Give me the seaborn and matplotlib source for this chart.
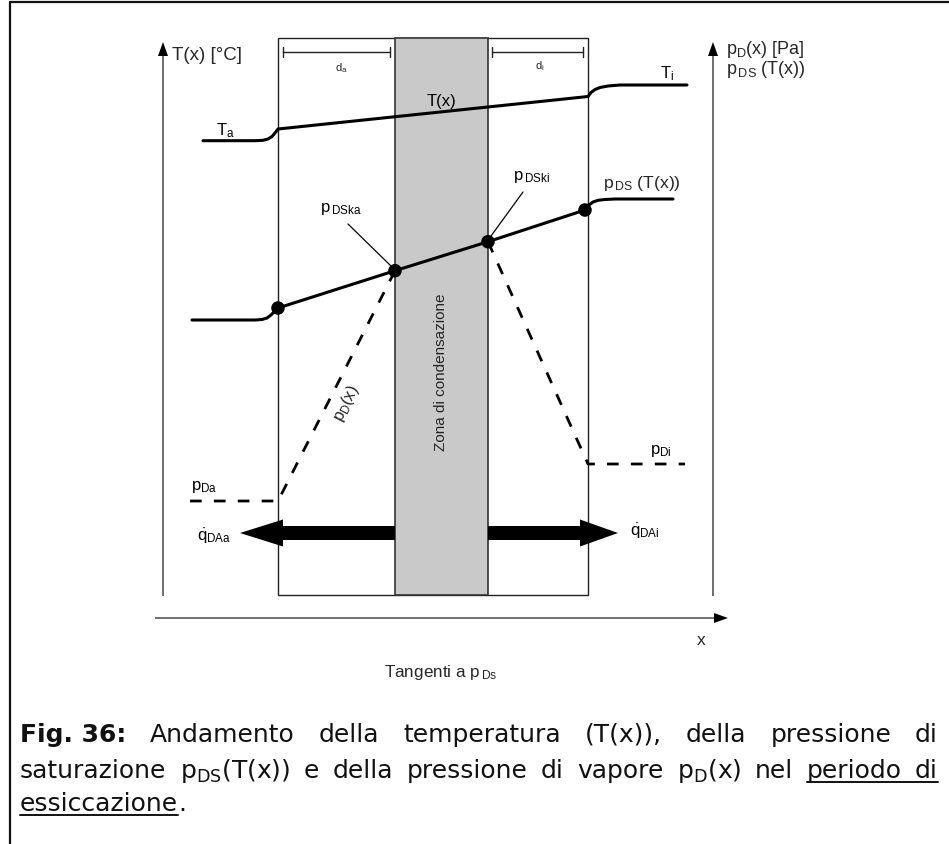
import matplotlib
matplotlib.use('Agg')
import matplotlib.pyplot as plt
import seaborn as sns
from matplotlib.patches import Rectangle

# drawing units: pixels of the 949x845 sheet, y axis pointing down

# layer geometry
wall_x = [278, 588]
zone_x = [395, 488]
layer_y = [39, 596]

# temperature curve T(x)
temp_x = [203, 255, 263, 268, 272, 275, 278, 588, 591, 595, 600, 608, 620, 687]
temp_y = [141.7, 141.7, 141.3, 140, 137.5, 134, 130, 97.5, 93.5, 90.5, 88.5, 87, 86, 86]

# saturation pressure curve p_DS(T(x))
psat_x = [192, 255, 262, 267, 271, 275, 278, 395, 488, 585, 589, 593, 598, 605, 615, 673]
psat_y = [321, 321, 320.5, 319, 316, 312, 309, 271.7, 242.7, 211, 206, 203, 201.3, 200.5, 200, 200]
dot_x = [278, 395, 488, 585]
dot_y = [309, 271.7, 242.7, 211]

# vapour pressure p_D(x), dashed
pd_left_x = [190, 278, 395]
pd_left_y = [502, 502, 271.7]
pd_right_x = [488, 588, 685]
pd_right_y = [242.7, 465, 465]

# vapour flux arrows (start, end) and height
flux_left = [395, 240]
flux_right = [488, 618]
flux_y = 534

# dimension bars d_a, d_i
dim_a = [283, 390]
dim_i = [492, 583]
dim_y = 53

# coordinate axes
axis_left_x = 163
axis_right_x = 713
axis_y_span = [597, 43]
axis_x_y = 619
axis_x_span = [155, 728]

# caption
caption_l1 = ['Andamento', 'della', 'temperatura', '(T(x)),', 'della', 'pressione', 'di']
caption_l2 = ['saturazione', r'p$_{\mathrm{DS}}$(T(x))', 'e', 'della', 'pressione', 'di',
              'vapore', r'p$_{\mathrm{D}}$(x)', 'nel', 'periodo', 'di']
caption_l2_under = [False] * 9 + [True, True]
caption_l3 = ['essiccazione', '.']
caption_base = [742, 778, 811]
text_left, text_right = 20, 938

sns.set_theme(style='white')
plt.rcParams['font.family'] = ['Liberation Sans', 'DejaVu Sans']
plt.rcParams['mathtext.fontset'] = 'custom'
plt.rcParams['mathtext.rm'] = 'Liberation Sans'
plt.rcParams['mathtext.it'] = 'Liberation Sans:italic'
plt.rcParams['mathtext.bf'] = 'Liberation Sans:bold'

fig = plt.figure(figsize=(9.49, 8.45), dpi=100)
ax = fig.add_axes([0, 0, 1, 1])

# frame of the page (top and left visible)
ax.plot([10, 949], [3, 3], color='#111', lw=1.6)
ax.plot([10, 10], [3, 845], color='#111', lw=1.6)

# wall and condensation zone
ax.add_patch(Rectangle((wall_x[0], layer_y[0]), wall_x[1] - wall_x[0], layer_y[1] - layer_y[0],
                       fc='white', ec='#222', lw=1.0, zorder=1))
ax.add_patch(Rectangle((zone_x[0], layer_y[0]), zone_x[1] - zone_x[0], layer_y[1] - layer_y[0],
                       fc='#c9c9c9', ec='#333', lw=1.2, zorder=2))

# axes arrows
for ax_x in [axis_left_x, axis_right_x]:
    ax.arrow(ax_x, axis_y_span[0], 0, axis_y_span[1] - axis_y_span[0], width=1.1, head_width=10,
             head_length=14, length_includes_head=True, color='black', lw=0, zorder=3)
ax.arrow(axis_x_span[0], axis_x_y, axis_x_span[1] - axis_x_span[0], 0, width=1.1, head_width=10,
         head_length=14, length_includes_head=True, color='black', lw=0, zorder=3)

# dimension bars
for d in [dim_a, dim_i]:
    ax.plot(d, [dim_y, dim_y], color='#222', lw=1.0, zorder=3)
    for xe in d:
        ax.plot([xe, xe], [dim_y - 5, dim_y + 5], color='#222', lw=1.0, zorder=3)

# curves
sns.lineplot(x=temp_x, y=temp_y, sort=False, estimator=None, color='black', lw=2.2, ax=ax, zorder=4)
sns.lineplot(x=psat_x, y=psat_y, sort=False, estimator=None, color='black', lw=2.2, ax=ax, zorder=4)
sns.lineplot(x=pd_left_x, y=pd_left_y, sort=False, estimator=None, color='black', lw=2.0,
             linestyle=(0, (4.2, 4.4)), ax=ax, zorder=4)
sns.lineplot(x=pd_right_x, y=pd_right_y, sort=False, estimator=None, color='black', lw=2.0,
             linestyle=(0, (4.2, 4.4)), ax=ax, zorder=4)
sns.scatterplot(x=dot_x, y=dot_y, s=95, color='black', edgecolor='none', ax=ax, zorder=5)

# leader lines to the interface points
ax.plot([348, 391], [225, 267], color='black', lw=0.9, zorder=4)
ax.plot([523, 491], [193, 237], color='black', lw=0.9, zorder=4)

# flux arrows
ax.arrow(flux_left[0], flux_y, flux_left[1] - flux_left[0], 0, width=14, head_width=27,
         head_length=43, length_includes_head=True, color='black', lw=0, zorder=4)
ax.arrow(flux_right[0], flux_y, flux_right[1] - flux_right[0], 0, width=14, head_width=27,
         head_length=38, length_includes_head=True, color='black', lw=0, zorder=4)

# diagram labels
lab = dict(fontsize=12, color='black', va='baseline', ha='left', zorder=6)
ax.text(172, 60, 'T(x) [°C]', fontsize=13.5, va='baseline', ha='left')
ax.text(726, 54, r'p$_{\mathrm{D}}$(x) [Pa]', fontsize=13, va='baseline', ha='left')
ax.text(726, 74, r'p$_{\,\mathrm{DS}}$ (T(x))', fontsize=13, va='baseline', ha='left')
ax.text(335, 71, r'd$_{\mathrm{a}}$', fontsize=8, va='baseline', ha='left')
ax.text(535, 69, r'd$_{\mathrm{i}}$', fontsize=8, va='baseline', ha='left')
ax.text(216, 135, r'T$_{\mathrm{a}}$', **lab)
ax.text(660, 78, r'T$_{\mathrm{i}}$', **lab)
ax.text(427, 106, 'T(x)', **lab)
ax.text(320, 212, r'p$_{\,\mathrm{DSka}}$', **lab)
ax.text(513, 180, r'p$_{\,\mathrm{DSki}}$', **lab)
ax.text(603, 188, r'p$_{\,\mathrm{DS}}$ (T(x))', fontsize=12.6, va='baseline', ha='left')
ax.text(191, 490, r'p$_{\mathrm{Da}}$', **lab)
ax.text(650, 454, r'p$_{\mathrm{Di}}$', **lab)
ax.text(197, 541, r'$\dot{\mathrm{q}}_{\mathrm{DAa}}$', **lab)
ax.text(630, 536, r'$\dot{\mathrm{q}}_{\mathrm{DAi}}$', **lab)
ax.text(346, 403, r'p$_{\mathrm{D}}$(x)', fontsize=12, rotation=63, rotation_mode='anchor',
        ha='center', va='center', zorder=6)
ax.text(441, 372, 'Zona di condensazione', fontsize=11, rotation=90, ha='center', va='center', zorder=6)
ax.text(701, 641, 'x', fontsize=12.5, ha='center', va='center')
ax.text(384, 677, r'Tangenti a p$_{\,\mathrm{Ds}}$', fontsize=12.3, va='baseline', ha='left')

ax.set_xlim(0, 949)
ax.set_ylim(845, 0)
ax.axis('off')

# caption, justified like the source page
cap = dict(fontsize=18, family='DejaVu Sans', math_fontfamily='dejavusans',
           va='baseline', ha='left', color='#111')
fig.canvas.draw()
rend = fig.canvas.get_renderer()


def justify(words, y, bold_first=None, under=None):
    texts = []
    if bold_first:
        texts.append(ax.text(0, y, bold_first, fontweight='bold', **cap))
    for w in words:
        texts.append(ax.text(0, y, w, **cap))
    widths = [t.get_window_extent(rend).width for t in texts]
    gap = (text_right - text_left - sum(widths)) / (len(texts) - 1)
    xpos = text_left
    spans = []
    for t, w in zip(texts, widths):
        t.set_x(xpos)
        spans.append((xpos, xpos + w))
        xpos += w + gap
    if under:
        offs = 1 if bold_first else 0
        idx = [i + offs for i, u in enumerate(under) if u]
        ax.plot([spans[idx[0]][0], spans[idx[-1]][1]], [y + 5, y + 5], color='#111', lw=1.4)


justify(caption_l1, caption_base[0], bold_first='Fig. 36:')
justify(caption_l2, caption_base[1], under=caption_l2_under)

t1 = ax.text(text_left, caption_base[2], caption_l3[0], **cap)
w1 = t1.get_window_extent(rend).width
ax.text(text_left + w1, caption_base[2], caption_l3[1], **cap)
ax.plot([text_left, text_left + w1], [caption_base[2] + 4.5] * 2, color='#111', lw=1.4)

fig.savefig('out.png', dpi=100)
